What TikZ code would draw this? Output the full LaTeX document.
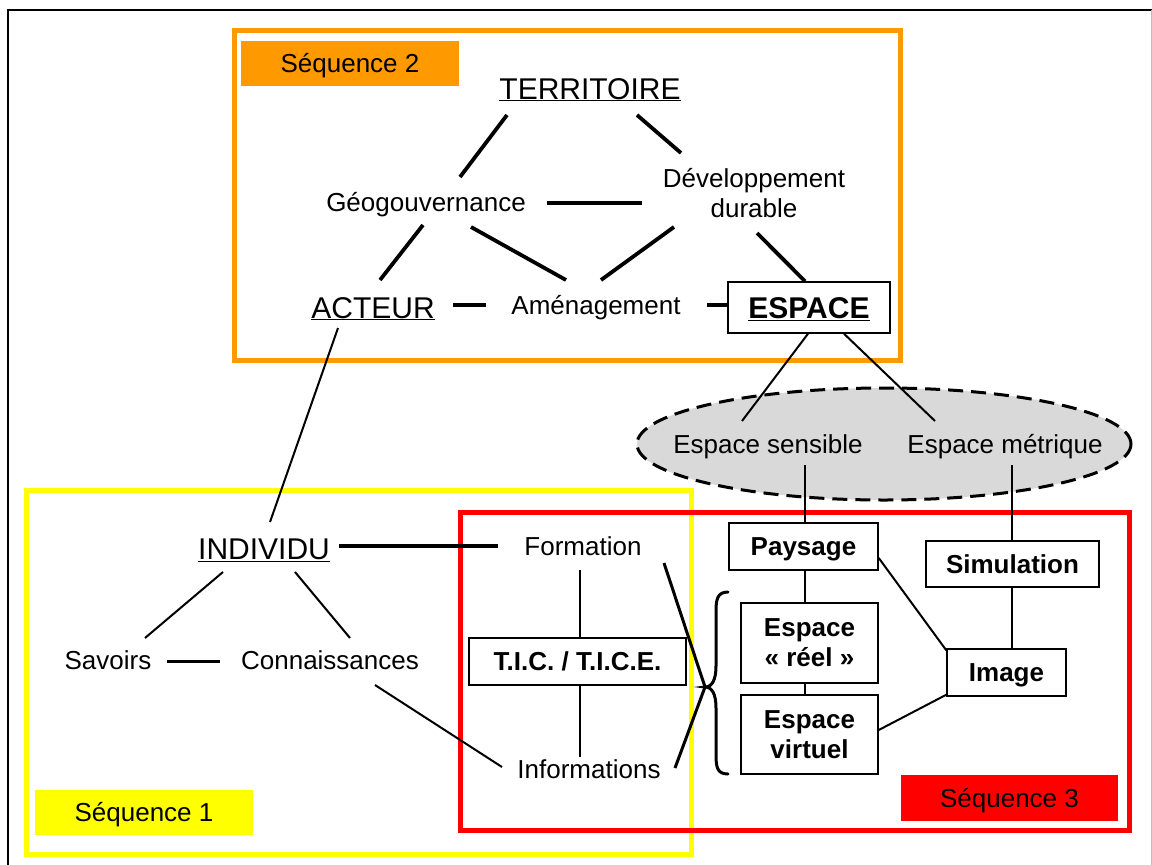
\documentclass[tikz,border=0pt]{standalone}
\usepackage{fontspec}
\setmainfont{Liberation Sans}
\usetikzlibrary{shapes.geometric}
\definecolor{seqorange}{HTML}{FF9900}
\definecolor{seqyellow}{HTML}{FFFF00}
\definecolor{seqred}{HTML}{FF0000}
\definecolor{ellgray}{HTML}{D9D9D9}
\begin{document}
\begin{tikzpicture}[x=1pt,y=-1pt,
  txt/.style={inner sep=0pt, anchor=base, font=\fontsize{26}{30}\selectfont},
  keyw/.style={inner sep=0pt, anchor=base, font=\fontsize{30}{34}\selectfont},
  multi/.style={inner sep=0pt, align=center, font=\fontsize{26}{30}\selectfont},
  boxed/.style={draw, line width=1.5pt, inner sep=0pt, align=center,
    font=\bfseries\fontsize{26}{30}\selectfont},
  onel/.style={text height=18.6pt, text depth=0pt},
  seqlabel/.style={inner sep=0pt, text height=18.6pt, text depth=0pt,
    font=\fontsize{26}{30}\selectfont, minimum width=218pt},
  frame/.style={line width=5pt},
  thinl/.style={line width=2pt},
  midl/.style={line width=3pt},
  heavyl/.style={line width=3.8pt},
]
\useasboundingbox (0,0) rectangle (1152,865);
\fill[white] (0,0) rectangle (1152,865);
% outer frame
\draw[line width=2pt] (8,865) -- (8,10) -- (1152,10);
\draw[black!25, line width=1pt] (1151,10) -- (1151,865);

% sequence frames
\draw[frame, seqorange] (234,30.5) rectangle (900.5,360);
\draw[frame, seqyellow] (26,490) rectangle (691,854);
\draw[frame, seqred] (460,512) rectangle (1129.5,830.5);

% sequence labels
\node[seqlabel, fill=seqorange, minimum height=45pt] (seqtwo) at (350,63.5) {Séquence 2};
\node[seqlabel, fill=seqyellow, minimum height=45pt] (seqone) at (144,812.5) {Séquence 1};
\node[seqlabel, fill=seqred, minimum width=217pt, minimum height=46pt] (seqthree) at (1009.5,798) {Séquence 3};

% dashed ellipse
\draw[fill=ellgray, line width=3pt, dash pattern=on 15pt off 8pt] (884,444) ellipse [x radius=247, y radius=56];

% sequence 2 nodes
\node[keyw] (terr) at (590,99) {\underline{TERRITOIRE}};
\node[txt] (geo) at (426,211) {Géogouvernance};
\node[multi] (dev) at (754,193.5) {Développement\\durable};
\node[keyw] (acteur) at (373,318) {\underline{ACTEUR}};
\node[txt] (amen) at (596,314) {Aménagement};
\node[boxed, onel, font=\bfseries\fontsize{30}{34}\selectfont, text height=21.5pt,
  minimum width=162pt, minimum height=51pt] (espace) at (809,307.5) {\underline{ESPACE}};

% ellipse texts
\node[txt] (sens) at (768,453) {Espace sensible};
\node[txt] (metr) at (1005,453) {Espace métrique};

% sequence 1 nodes
\node[keyw] (indiv) at (264,559) {\underline{INDIVIDU}};
\node[txt] (form) at (583,555) {Formation};
\node[txt] (savoirs) at (108,669) {Savoirs};
\node[txt] (conn) at (330,669) {Connaissances};
\node[boxed, onel, minimum width=217pt, minimum height=47pt] (tic) at (577.5,661.5) {T.I.C. / T.I.C.E.};
\node[txt] (info) at (589,778) {Informations};

% sequence 3 nodes
\node[boxed, onel, minimum width=149pt, minimum height=47pt] (pays) at (803.5,546.5) {Paysage};
\node[boxed, onel, minimum width=173pt, minimum height=46pt] (simul) at (1012.5,564) {Simulation};
\node[boxed, minimum width=137pt, minimum height=80pt] (reel) at (809.5,643) {Espace\\« réel »};
\node[boxed, minimum width=137pt, minimum height=79pt] (virt) at (809.5,734.5) {Espace\\virtuel};
\node[boxed, onel, minimum width=119pt, minimum height=47pt] (image) at (1006.5,672.5) {Image};

% brace
\coordinate (btip) at (705,687);
\draw[midl, line cap=round] (728,592) .. controls (717,592) and (716,600) .. (716,612)
  -- (716,666) .. controls (716,680) and (712,687) .. (btip)
  .. controls (712,687) and (716,694) .. (716,708)
  -- (716,754) .. controls (716,767) and (717,774) .. (728,774);

% connectors, sequence 2
\draw[heavyl] ([shift={(-83,16)}]terr.base) -- ([shift={(34,-34)}]geo.base);
\draw[heavyl] ([shift={(47,16)}]terr.base) -- ([shift={(-73,-40.5)}]dev.center);
\draw[heavyl] ([shift={(121,-8)}]geo.base) -- ([shift={(-112,9.5)}]dev.center);
\draw[heavyl] ([shift={(-3,14)}]geo.base) -- ([shift={(7,-38)}]acteur.base);
\draw[heavyl] ([shift={(45,16)}]geo.base) -- ([shift={(-30,-34)}]amen.base);
\draw[heavyl] ([shift={(-80,33.5)}]dev.center) -- ([shift={(5,-34)}]amen.base);
\draw[heavyl] ([shift={(3,39.5)}]dev.center) -- ([shift={(-4,0)}]espace.north);
\draw[heavyl] ([shift={(80,-13)}]acteur.base) -- ([shift={(-110,-9)}]amen.base);
\draw[heavyl] ([shift={(111,-9)}]amen.base) -- ([shift={(0,-2.5)}]espace.west);
\draw[thinl] ([shift={(-1,0)}]espace.south) -- ([shift={(-26,-32)}]sens.base);
\draw[thinl] ([shift={(35,0)}]espace.south) -- ([shift={(-70,-32)}]metr.base);

% connectors, sequence 1
\draw[thinl] ([shift={(-35,10)}]acteur.base) -- ([shift={(6,-37)}]indiv.base);
\draw[heavyl] ([shift={(75,-13)}]indiv.base) -- ([shift={(-85,-9)}]form.base);
\draw[thinl] ([shift={(-41,13)}]indiv.base) -- ([shift={(37,-31)}]savoirs.base);
\draw[thinl] ([shift={(31,13)}]indiv.base) -- ([shift={(20,-31)}]conn.base);
\draw[midl] ([shift={(59,-8)}]savoirs.base) -- ([shift={(-110,-8)}]conn.base);
\draw[thinl] ([shift={(45,16)}]conn.base) -- ([shift={(-87,-11)}]info.base);
\draw[thinl] ([shift={(-3,15)}]form.base) -- ([shift={(2.5,0)}]tic.north);
\draw[thinl] ([shift={(2.5,0)}]tic.south) -- ([shift={(-9,-21)}]info.base);
\draw[midl] ([shift={(81,8)}]form.base) -- (btip);
\draw[midl] ([shift={(86,-10)}]info.base) -- (btip);

% connectors, sequence 3
\draw[thinl] ([shift={(37,12)}]sens.base) -- ([shift={(1.5,0)}]pays.north);
\draw[thinl] ([shift={(7,12)}]metr.base) -- ([shift={(-0.5,0)}]simul.north);
\draw[thinl] ([shift={(1.5,0)}]pays.south) -- ([shift={(-4.5,0)}]reel.north);
\draw[thinl] ([shift={(-4.5,0)}]reel.south) -- ([shift={(-4.5,0)}]virt.north);
\draw[thinl] ([shift={(-0.5,0)}]simul.south) -- ([shift={(5.5,0)}]image.north);
\draw[thinl] ([shift={(0,11.5)}]pays.east) -- ([shift={(0,2)}]image.north west);
\draw[thinl] ([shift={(0,-4.5)}]virt.east) -- ([shift={(0,-2)}]image.south west);
\end{tikzpicture}
\end{document}
